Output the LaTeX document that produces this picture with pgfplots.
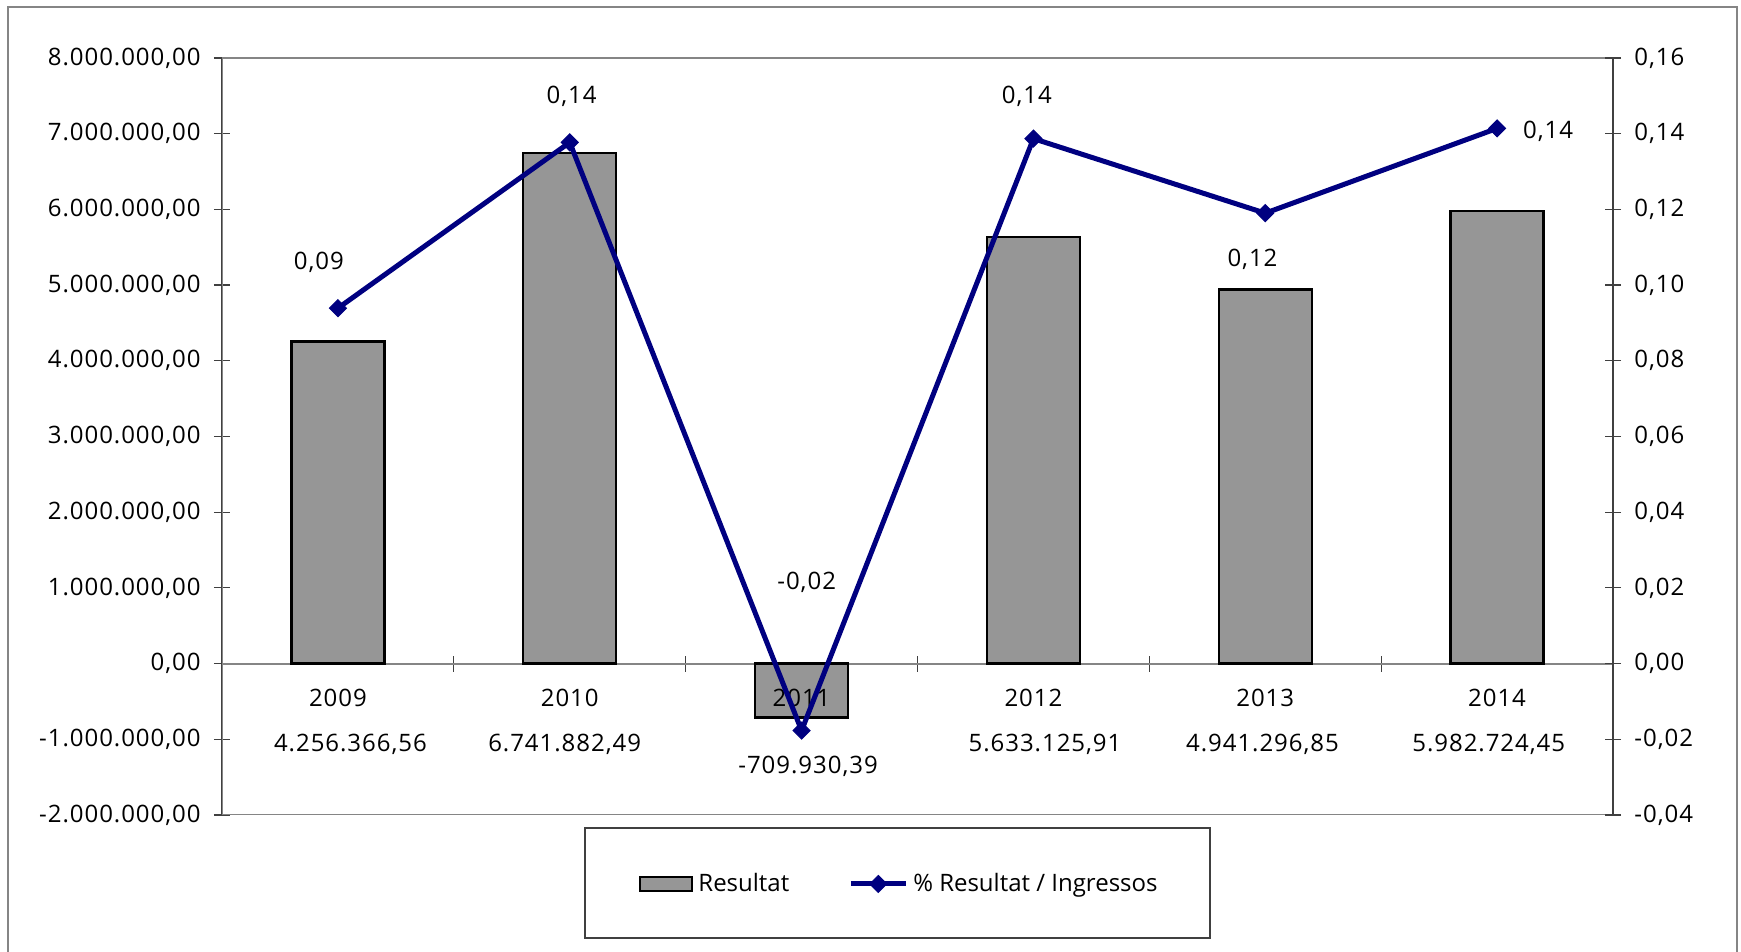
\documentclass[border=0pt]{standalone}
\usepackage{fontspec}
\setmainfont{Open Sans}
\newfontfamily\numfont[LetterSpace=4]{Open Sans}
\usepackage{pgfplots}
\pgfplotsset{compat=1.18}
\definecolor{barfill}{HTML}{969696}
\definecolor{navyline}{HTML}{000080}
\definecolor{axgray}{HTML}{858585}
\definecolor{axdark}{HTML}{404040}
\pgfplotsset{
  barlegend/.style={legend image code/.code={\draw[fill=barfill, draw=black, line width=1.2pt] (0pt,-3.5pt) rectangle (26pt,3.5pt);}},
  linelegend/.style={legend image code/.code={\draw[mark repeat=2,mark phase=2,##1] plot coordinates {(0pt,0pt) (13.75pt,0pt) (27.5pt,0pt)};}},
}
\begin{document}
\fontsize{12pt}{14pt}\selectfont
\begin{tikzpicture}[num/.style={anchor=base, font=\numfont}]
\useasboundingbox (0,0) rectangle (870.5pt,476pt);
\draw[axgray, line width=1pt] (4pt,-5pt) -- (4pt,472.5pt) -- (868.5pt,472.5pt) -- (868.5pt,-5pt);
\draw[axdark, line width=0.75pt] (292.5pt,7pt) rectangle (605pt,62pt);
\begin{axis}[
  at={(111pt,68.5pt)}, anchor=south west,
  width=695.5pt, height=378.5pt, scale only axis,
  xmin=-0.5, xmax=5.5, ymin=-2000000, ymax=8000000,
  axis x line*=middle, axis y line*=left,
  hide obscured x ticks=false, hide obscured y ticks=false,
  x axis line style={-, draw=axgray, line width=1pt},
  y axis line style={-, draw=axdark, line width=1pt},
  xtick={0.5,1.5,2.5,3.5,4.5}, xticklabels={},
  ytick={-2000000,-1000000,0,1000000,2000000,3000000,4000000,5000000,6000000,7000000,8000000},
  tick align=center, major tick length=8pt,
  tick style={axdark, line width=0.6pt},
  scaled y ticks=false,
  /pgf/number format/fixed, /pgf/number format/fixed zerofill,
  /pgf/number format/precision=2, /pgf/number format/use comma,
  /pgf/number format/1000 sep={.},
  /pgf/number format/assume math mode=true,
  yticklabel style={xshift=-2.5pt, font=\numfont},
]
\draw[axgray, line width=1pt] (rel axis cs:0,0) rectangle (rel axis cs:1,1);
\addplot[ybar, bar width=46.5pt, fill=barfill, draw=black, line width=1.2pt]
  coordinates {(0,4256366.56) (1,6741882.49) (2,-709930.39) (3,5633125.91) (4,4941296.85) (5,5982724.45)};
\node[num] at (axis cs:0,-569000) {2009};
\node[num] at (axis cs:1,-569000) {2010};
\node[num] at (axis cs:2,-569000) {2011};
\node[num] at (axis cs:3,-569000) {2012};
\node[num] at (axis cs:4,-569000) {2013};
\node[num] at (axis cs:5,-569000) {2014};
\node[num] at (axis cs:0.054,-1164000) {4.256.366,56};
\node[num] at (axis cs:0.978,-1164000) {6.741.882,49};
\node[num] at (axis cs:2.028,-1449000) {-709.930,39};
\node[num] at (axis cs:3.050,-1164000) {5.633.125,91};
\node[num] at (axis cs:3.988,-1164000) {4.941.296,85};
\node[num] at (axis cs:4.964,-1164000) {5.982.724,45};
\end{axis}
\begin{axis}[
  at={(111pt,68.5pt)}, anchor=south west,
  width=695.5pt, height=378.5pt, scale only axis,
  xmin=-0.5, xmax=5.5, ymin=-0.04, ymax=0.16,
  axis y line*=right, axis x line=none,
  y axis line style={-, draw=axdark, line width=1pt},
  ytick={-0.04,-0.02,0,0.02,0.04,0.06,0.08,0.1,0.12,0.14,0.16},
  tick align=center, major tick length=8pt,
  tick style={axdark, line width=0.6pt},
  /pgf/number format/fixed, /pgf/number format/fixed zerofill,
  /pgf/number format/precision=2, /pgf/number format/use comma,
  /pgf/number format/assume math mode=true,
  yticklabel style={xshift=2.5pt, font=\numfont},
  legend style={at={(0.488,-0.0911)}, anchor=center, draw=none, fill=none,
    legend columns=2, nodes={inner xsep=2.5pt, inner ysep=1pt},
    /tikz/every even column/.append style={column sep=27pt}},
]
\addlegendimage{barlegend}
\addlegendentry{Resultat}
\addplot[navyline, line width=2.5pt, mark=square*,
  mark options={rotate=45, solid, mark size=3pt, line width=0.5pt}, linelegend]
  coordinates {(0,0.0939) (1,0.1377) (2,-0.0177) (3,0.1387) (4,0.1190) (5,0.1414)};
\addlegendentry{\% Resultat / Ingressos}
\node[num] at (axis cs:-0.082,0.1042) {0,09};
\node[num] at (axis cs:1.008,0.1480) {0,14};
\node[num] at (axis cs:2.022,0.0196) {-0,02};
\node[num] at (axis cs:2.972,0.1480) {0,14};
\node[num] at (axis cs:3.945,0.1049) {0,12};
\node[num] at (axis cs:5.220,0.1386) {0,14};
\end{axis}
\end{tikzpicture}
\end{document}
